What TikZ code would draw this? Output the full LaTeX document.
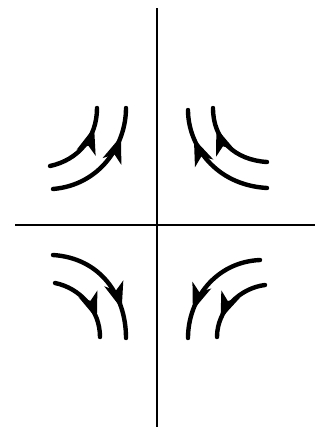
\documentclass[tikz,border=0pt]{standalone}
\usetikzlibrary{arrows.meta, decorations.markings}

\begin{document}
\begin{tikzpicture}[x=0.02cm,y=-0.02cm,
	axis/.style={line width=1.6pt},
	traj/.style={line width=2.5pt, line cap=round, postaction={decorate},
		decoration={markings, mark=at position #1 with {\arrow{Stealth[length=15pt,width=11pt,inset=4pt]}}}},
	traj/.default=0.76]
	\useasboundingbox (0,0) rectangle (324,430);
	% axes
	\draw[axis] (157,8) -- (157,427);
	\draw[axis] (15,225) -- (315,225);
	% upper left
	\draw[traj] (53,189) .. controls (100,185) and (126,145) .. (126,108);
	\draw[traj] (50,166) .. controls (78,160) and (97,138) .. (97,108);
	% upper right
	\draw[traj] (267,188) .. controls (215,185) and (188,145) .. (188,110);
	\draw[traj] (267,162) .. controls (235,160) and (213,140) .. (213,108);
	% lower left
	\draw[traj] (53,255) .. controls (100,258) and (126,295) .. (126,338);
	\draw[traj] (55,283) .. controls (80,288) and (100,310) .. (100,337);
	% lower right
	\draw[traj] (260,260) .. controls (215,262) and (188,300) .. (188,338);
	\draw[traj] (265,285) .. controls (240,288) and (217,310) .. (217,337);
\end{tikzpicture}
\end{document}
